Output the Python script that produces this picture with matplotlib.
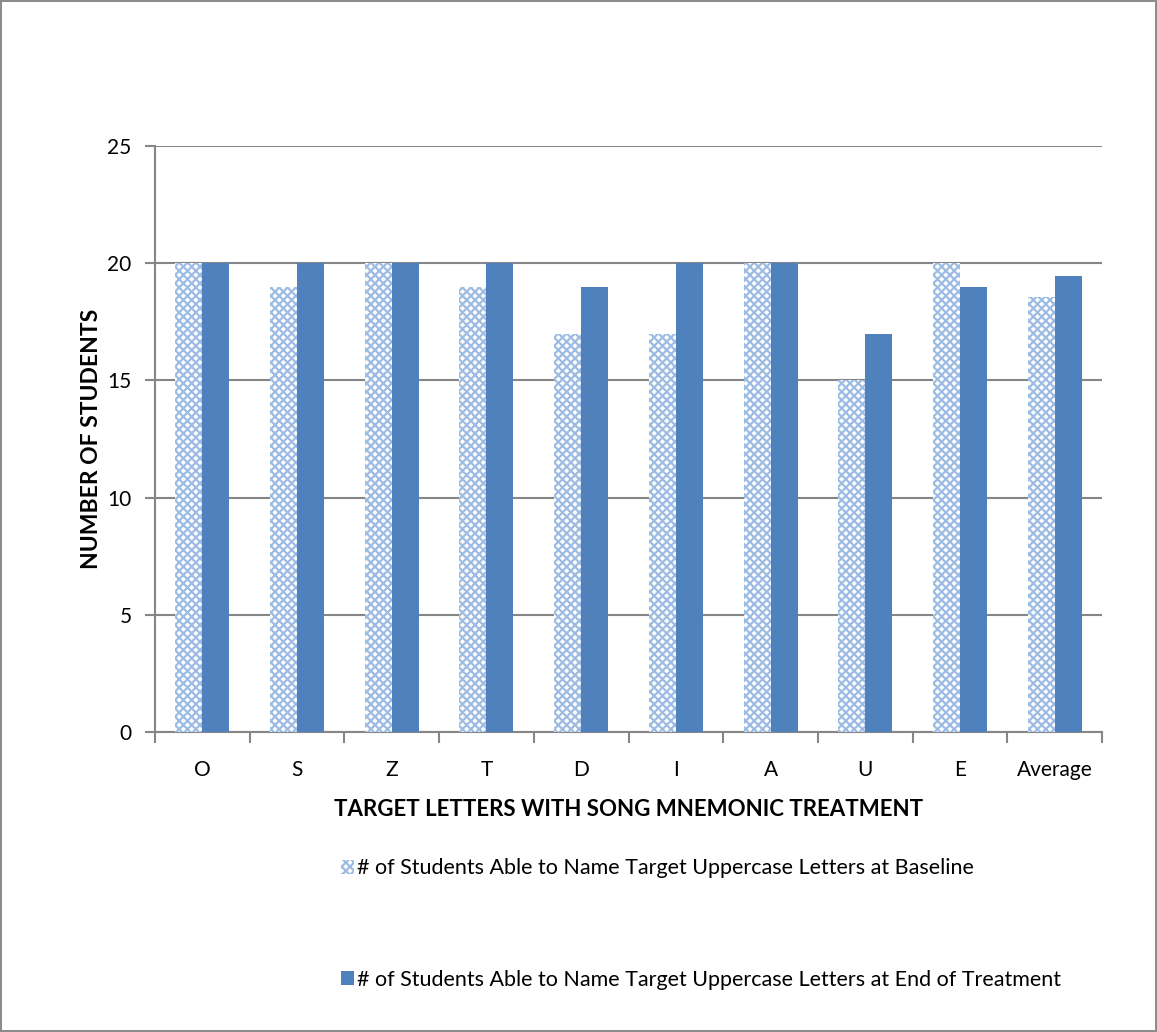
import numpy as np
import matplotlib as mpl
mpl.use('agg')
import matplotlib.pyplot as plt

letters = ['O', 'S', 'Z', 'T', 'D', 'I', 'A', 'U', 'E', 'Average']
baseline = [20, 19, 20, 19, 17, 17, 20, 15, 20, 18.56]
end_treatment = [20, 20, 20, 20, 19, 20, 20, 17, 19, 19.44]
yticks = [0, 5, 10, 15, 20, 25]

plt.rcParams['font.family'] = ['Lato', 'DejaVu Sans']
plt.rcParams['hatch.linewidth'] = 1.6

fig = plt.figure(figsize=(11.57, 10.32), dpi=100)
fig.patch.set_edgecolor('#8c8c8c')
fig.patch.set_linewidth(1.5)
ax = fig.add_axes([0.134, 0.2907, 0.8185, 0.5678])

x = np.arange(len(letters))
w = 0.285
ax.bar(x - w/2, baseline, w, color='white', edgecolor='#9DBCE4', hatch='xxxx',
       linewidth=0, label='# of Students Able to Name Target Uppercase Letters at Baseline', zorder=3)
ax.bar(x + w/2, end_treatment, w, color='#4F81BD', edgecolor='#4F81BD', linewidth=0,
       label='# of Students Able to Name Target Uppercase Letters at End of Treatment', zorder=3)

ax.set_xlim(-0.5, len(letters) - 0.5)
ax.set_ylim(0, 25)
ax.set_yticks(yticks)
ax.yaxis.grid(True, color='#868686', linewidth=1.5, zorder=0)
ax.set_xticks(x)
ax.set_xticklabels(letters)
ax.set_xticks(np.arange(-0.5, len(letters)), minor=True)
ax.tick_params(axis='x', which='major', length=0, pad=20, labelsize=15)
ax.tick_params(axis='x', which='minor', length=8, color='#868686', width=1.5)
ax.tick_params(axis='y', length=7, color='#868686', width=1.5, labelsize=15, pad=10)
for s in ['top', 'right']:
    ax.spines[s].set_visible(False)
for s in ['left', 'bottom']:
    ax.spines[s].set_color('#868686')
    ax.spines[s].set_linewidth(1.5)

ax.set_xlabel('TARGET LETTERS WITH SONG MNEMONIC TREATMENT', fontsize=16, fontweight='bold', labelpad=14)
ax.set_ylabel('NUMBER OF STUDENTS', fontsize=16.5, fontweight='bold', labelpad=4)

fig.legend(loc='upper left', bbox_to_anchor=(0.278, 0.187), frameon=False, fontsize=15.5,
           handlelength=0.6, handleheight=0.6, handletextpad=0.15, labelspacing=4.25)

plt.savefig('out.png')
